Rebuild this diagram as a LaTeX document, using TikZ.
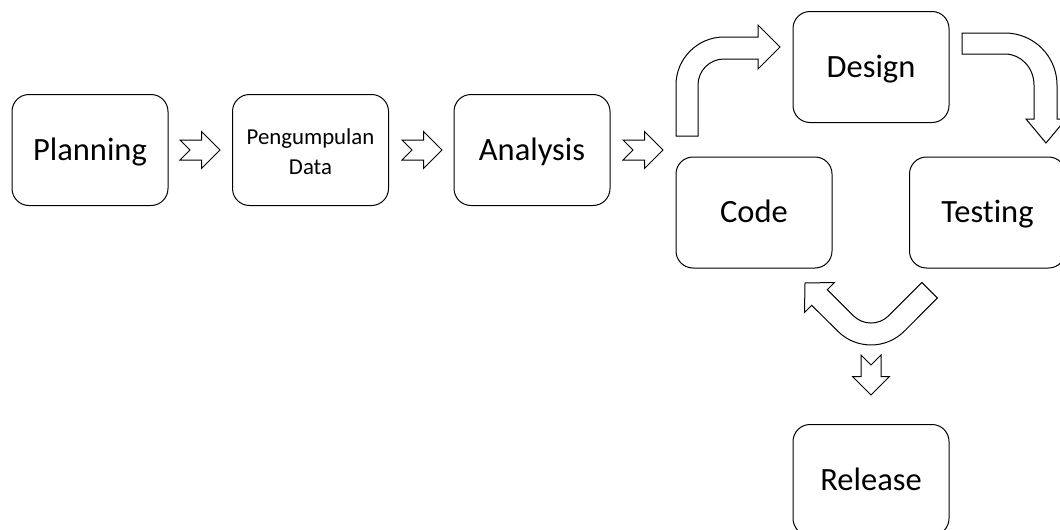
\documentclass[tikz,border=0pt]{standalone}
\usepackage{fontspec}
\setmainfont{Carlito}[Ligatures=NoCommon]
\begin{document}
\begin{tikzpicture}[x=1pt, y=-1pt,
  stagebase/.style={draw=black, line width=1pt, fill=white, rounded corners=17pt,
    minimum width=156pt, minimum height=111pt, inner sep=0pt},
  stage/.style={stagebase, font=\fontsize{32.5}{39}\selectfont,
    text height=20.5pt, text depth=0pt},
  blockarrow/.style={draw=black, line width=1pt, fill=white, line join=miter},
  notcharrow/.pic={
    \draw[blockarrow] (0,-10) -- (21.7,-10) -- (21.7,-18.3) -- (40,0)
      -- (21.7,18.3) -- (21.7,10) -- (0,10) -- (10,0) -- cycle;
  }
]
\useasboundingbox (0,0) rectangle (1060,530);
\clip (0,0) rectangle (1060,530);

% stages
\node[stage] (plan) at (90,150) {Planning};
\node[stagebase, font=\fontsize{22.8}{30}\selectfont] (data) at (310.5,150)
  {\begin{tabular}{@{}c@{}}\rule{0pt}{27pt}Pengumpulan\\Data\end{tabular}};
\node[stage] (analysis) at (532,150) {Analysis};
\node[stage] (design) at (871,67) {Design};
\node[stage] (code) at (754,212.5) {Code};
\node[stage] (testing) at (987.5,212.5) {Testing};
\node[stage] (release) at (871,480) {Release};

% notched arrows along the sequence
\pic at (180,150) {notcharrow};
\pic at (402,150) {notcharrow};
\pic at (623,150) {notcharrow};
\pic[rotate=-90] at (871,355) {notcharrow};

% bent arrow: code up to design
\draw[blockarrow] (676,136) -- (676,85) arc[start angle=180, end angle=270, radius=48]
  -- (758,37) -- (758,25) -- (780,47) -- (758,69) -- (758,59) -- (724,59)
  arc[start angle=270, end angle=180, radius=26] -- (698,136) -- cycle;

% bent arrow: design down to testing
\draw[blockarrow] (962,33) -- (1005,33) arc[start angle=270, end angle=360, radius=52]
  -- (1057,119) -- (1066,119) -- (1046,143) -- (1026,119) -- (1034,119) -- (1034,85)
  arc[start angle=0, end angle=-90, x radius=29, y radius=31] -- (962,54) -- cycle;

% u-turn arrow: testing back to code
\draw[blockarrow] (921.9,282.5) -- (888.7,315.7) arc[start angle=45, end angle=135, radius=25]
  -- (827.3,289.7) -- (834.5,282.5) -- (805,283) -- (804.5,312.5) -- (811.7,305.3)
  -- (837.8,331.2) arc[start angle=135, end angle=45, radius=47] -- (937.4,298) -- cycle;
\end{tikzpicture}
\end{document}
